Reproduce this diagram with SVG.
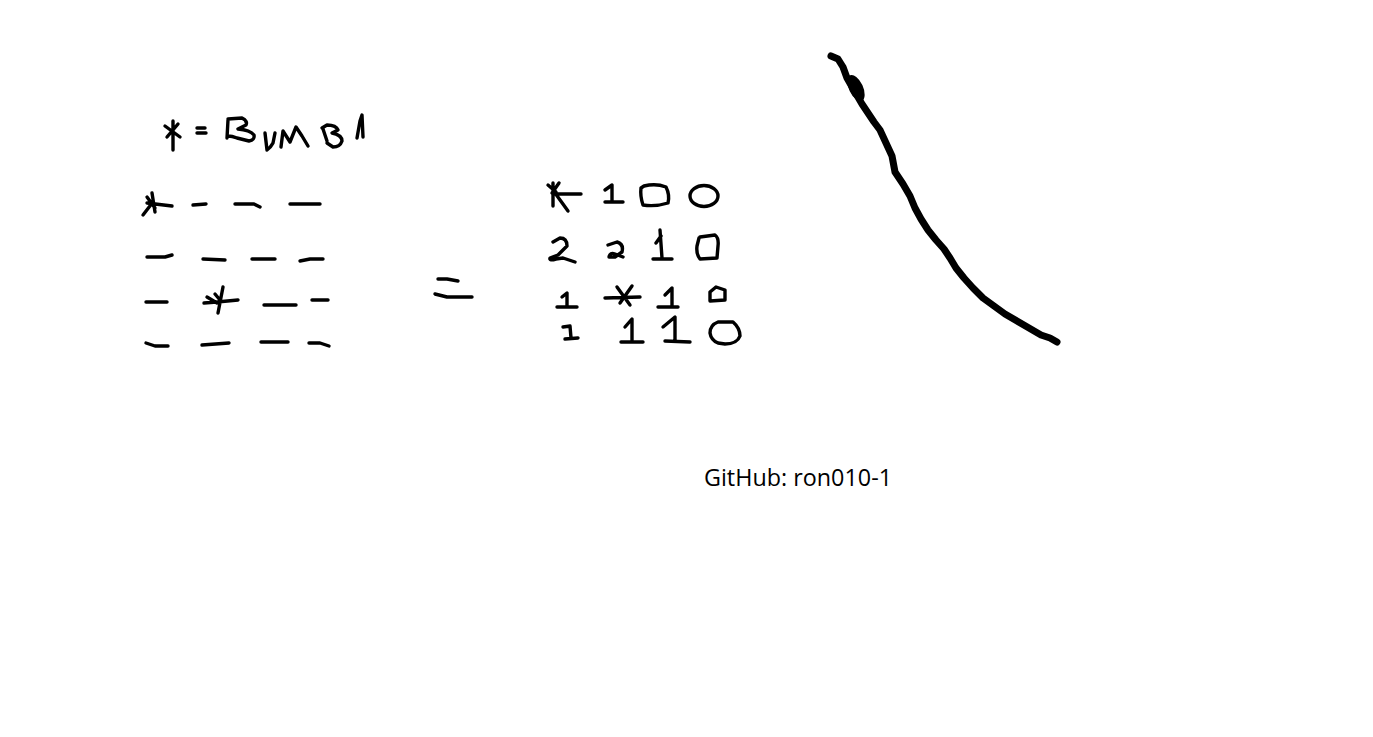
<svg xmlns="http://www.w3.org/2000/svg" width="1373" height="737" viewBox="0 0 1373 737">
<style>
.p{fill:none;stroke:#000;stroke-width:3.4;stroke-linecap:round;stroke-linejoin:round}
.c{fill:none;stroke:#000;stroke-width:7;stroke-linecap:round;stroke-linejoin:round}
.t{font-family:"Open Sans","Liberation Sans",sans-serif;font-size:23px;fill:#000}
</style>
<rect width="1373" height="737" fill="#fff"/>
<g id="legend">
<path class="p" d="M173,121 L173,150 M165,126 L180,137 M167,137 L178,124"/>
<path class="p" d="M197,128 L205,128 M197,133 L206,133"/>
<path class="p" d="M228,120 L227,138 M228,119 L242,118 Q248,121 246,125 L238,129 Q250,130 254,135 Q255,140 249,141 L237,138 Q232,136 228,136"/>
<path class="p" d="M265,133 L267,150 Q271,147 273,143 L275,133"/>
<path class="p" d="M281,147 L283,131 L290,142 L296,127 L302,136 L308,146"/>
<path class="p" d="M322,128 L327,125 Q336,125 338,130 L332,133 Q342,135 342,141 Q340,147 333,147 L327,143 M323,129 L327,141"/>
<path class="p" d="M357,138 L360,121 L362,115 L363,137"/>
</g>
<g id="grid-left">
<path class="p" d="M152,193 L155,212 M147,203 L172,206 M143,215 L153,202 M147,197 L155,208"/>
<path class="p" d="M193,205 L206,204"/>
<path class="p" d="M235,204 L254,204 L260,207"/>
<path class="p" d="M290,204 L320,204"/>
<path class="p" d="M147,257 L165,257 L172,255"/>
<path class="p" d="M203,259 L225,260"/>
<path class="p" d="M252,259 L275,259"/>
<path class="p" d="M300,261 L310,259 L323,259"/>
<path class="p" d="M146,302 L167,302"/>
<path class="p" d="M204,303 L217,302 L238,300 M223,287 L218,313 M207,297 L217,303 M215,294 L220,300"/>
<path class="p" d="M264,305 L296,305"/>
<path class="p" d="M312,300 L328,300"/>
<path class="p" d="M146,343 L155,346 L168,346"/>
<path class="p" d="M202,345 L229,343"/>
<path class="p" d="M261,342 L288,342"/>
<path class="p" d="M309,343 L320,343 L329,346"/>
</g>
<g id="equals">
<path class="p" d="M438,279 L447,279 L458,281"/>
<path class="p" d="M435,294 L447,297 L472,297"/>
</g>
<g id="grid-right">
<path class="p" d="M553,183 L553,206 M553,194 L581,194 M555,193 L568,211 M548,185 L556,192 M559,183 L552,193"/>
<path class="p" d="M605,190 L612,185 L612,202 M605,202 L623,202"/>
<path class="p" d="M644,186 Q656,183 666,187 Q670,195 668,203 Q655,207 643,205 Q640,196 641,188 Z"/>
<ellipse class="p" cx="704" cy="196" rx="14" ry="10.5"/>
<path class="p" d="M553,242 L560,238 Q567,238 567,246 L558,255 L550,258 Q549,261 556,259 L563,258 L575,262"/>
<path class="p" d="M608,245 L617,242 Q624,244 622,252 L615,257 L609,257 Q610,252 615,254 L623,257"/>
<path class="p" d="M660,230 L662,258 M656,243 L661,236 M653,259 L672,259"/>
<path class="p" d="M700,237 L715,235 Q719,238 718,246 L717,258 L700,259 Q696,254 697,246 L699,238"/>
<path class="p" d="M562,297 L567,293 L567,307 M557,307 L577,307"/>
<path class="p" d="M605,298 L640,297 M617,287 L630,305 M632,286 L620,303"/>
<path class="p" d="M665,295 L672,288 L672,306 M658,307 L678,307"/>
<path class="p" d="M710,292 L716,287 L725,290 L725,300 L710,301 Z"/>
<path class="p" d="M563,327 L570,326 L571,338 M565,339 L578,338"/>
<path class="p" d="M625,327 L632,319 L632,340 M621,342 L643,342"/>
<path class="p" d="M663,327 L675,317 L675,340 M665,341 L690,342"/>
<path class="p" d="M718,322 L733,322 Q740,328 740,336 Q737,344 725,344 L718,343 Q711,340 710,333 Q710,325 718,322 Z"/>
</g>
<g id="curve">
<path class="c" d="M831,56 L838,59 L843,67 L847,78 L855,92 L862,104 L868,113 L874,122 L880,130 L886,143 L892,156 L895,172 L903,184 L910,196 L915,208 L921,219 L928,230 L936,240 L944,249 L950,258 L956,268 L964,278 L973,288 L983,298 L994,306 L1005,314 L1017,321 L1029,328 L1041,335 L1050,338 L1057,342"/>
<ellipse cx="856" cy="88" rx="7" ry="14" transform="rotate(-25 856 88)" fill="#000"/>
</g>
<g id="credit">
<text class="t" x="704" y="486" textLength="188" lengthAdjust="spacingAndGlyphs">GitHub: ron010-1</text>
</g>
</svg>
